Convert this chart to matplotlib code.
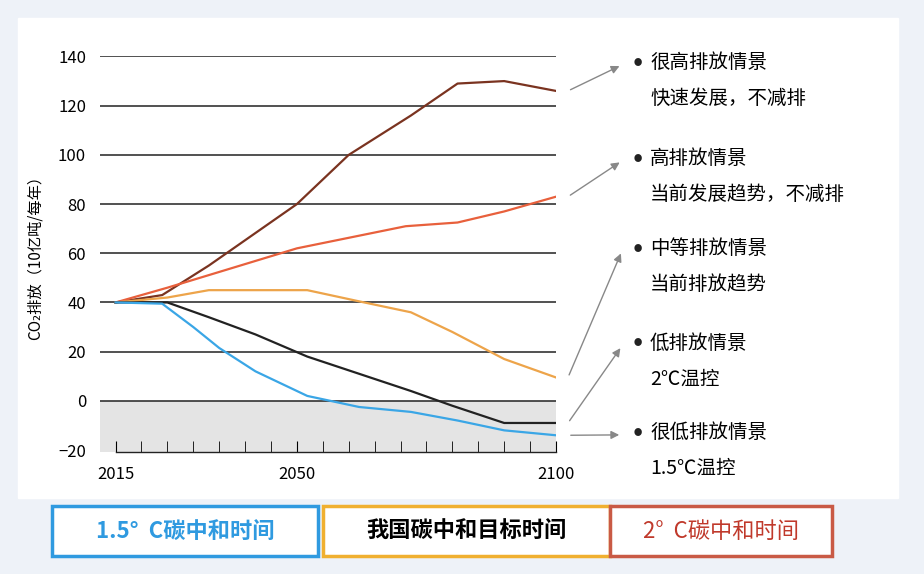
import matplotlib.pyplot as plt
import matplotlib.patches as patches
import numpy as np

plt.rcParams['font.family'] = ['Noto Sans CJK SC', 'DejaVu Sans']

# data
yr_vh = [2015, 2024, 2033, 2050, 2060, 2072, 2081, 2090, 2100]
vh = [40, 43, 55, 80, 100, 116, 129, 130, 126]
yr_h = [2015, 2025, 2050, 2071, 2081, 2090, 2100]
h = [40, 46, 62, 71, 72.5, 77, 83]
yr_m = [2015, 2025, 2033, 2052, 2063, 2072, 2080, 2090, 2100]
m = [40, 42, 45, 45, 40, 36, 28, 17, 9.5]
yr_l = [2015, 2025, 2033, 2042, 2052, 2062, 2072, 2080, 2090, 2100]
l = [40, 40, 34, 27, 18, 11, 4, -2, -9, -9]
yr_vl = [2015, 2024, 2030, 2035, 2042, 2052, 2062, 2072, 2081, 2090, 2100]
vl = [40, 39.5, 30, 21.5, 12, 2, -2.5, -4.5, -8, -12, -14]

labels = [("很高排放情景", "快速发展，不减排"),
          ("高排放情景", "当前发展趋势，不减排"),
          ("中等排放情景", "当前排放趋势"),
          ("低排放情景", "2℃温控"),
          ("很低排放情景", "1.5℃温控")]
label_y = [62, 158, 248, 343, 432]  # pixel rows of the label text

W, H = 924, 574
fig = plt.figure(figsize=(W / 100, H / 100), dpi=100)
fig.patch.set_facecolor('#eef2f8')
fig.patches.append(patches.Rectangle((18 / W, 1 - 498 / H), 880 / W, 480 / H,
                                     transform=fig.transFigure, color='white', zorder=-5))

ax = fig.add_axes([100 / W, 1 - 452 / H, 456 / W, 396 / H])
ax.set_zorder(2)
ax.patch.set_alpha(0)
ax.set_xlim(2012.0, 2100)
ax.set_ylim(-20.8, 140.2)
for v in range(0, 141, 20):
    ax.axhline(v, color='#222222', lw=1.1, zorder=1)
ax.axhspan(-20.8, 0, color='#e4e4e4', zorder=0)
ax.plot(yr_vh, vh, color='#7a3320', lw=1.6, zorder=3)
ax.plot(yr_h, h, color='#e8603c', lw=1.6, zorder=3)
ax.plot(yr_m, m, color='#eda44a', lw=1.6, zorder=3)
ax.plot(yr_l, l, color='#222222', lw=1.6, zorder=3)
ax.plot(yr_vl, vl, color='#3aa6e6', lw=1.6, zorder=3)
for s in ax.spines.values():
    s.set_visible(False)
ax.set_yticks(range(-20, 141, 20))
ax.set_xticks([2015, 2050, 2100])
ax.set_xticks(np.arange(2015, 2101, 5), minor=True)
ax.tick_params(axis='y', length=0, labelsize=12, pad=10)
ax.tick_params(axis='x', which='both', direction='in', length=8, labelsize=12, pad=10)
ax.plot([2015, 2100], [-20.8, -20.8], color='#222222', lw=1, clip_on=False)
ax.set_ylabel('CO₂排放（10亿吨/每年）', fontsize=11, labelpad=10)

# right side arrows and labels
ends = [vh[-1], h[-1], m[-1], l[-1], vl[-1]]
for (t1, t2), py, e in zip(labels, label_y, ends):
    fy = 1 - py / H
    ay = ax.transData.transform((2100, e))
    ay = fig.transFigure.inverted().transform(ay)
    fig.add_artist(patches.FancyArrowPatch((568 / W, ay[1]), (622 / W, fy - 0.005),
                   transform=fig.transFigure, arrowstyle='-|>', mutation_scale=12,
                   color='#888888', lw=1))
    fig.text(634 / W, fy, '●', fontsize=6, va='center', color='#222222')
    fig.text(650 / W, fy, t1, fontsize=14, va='center')
    fig.text(650 / W, fy - 36 / H, t2, fontsize=14, va='center')

# bottom boxes
boxes = [(52, 318, '#2f9ae0', '1.5°  C碳中和时间', '#2f9ae0', 'bold'),
         (323, 610, '#f0b030', '我国碳中和目标时间', 'black', 'bold'),
         (610, 832, '#c95a45', '2°  C碳中和时间', '#c0392b', 'normal')]
for x0, x1, ec, txt, tc, fw in boxes:
    fig.patches.append(patches.Rectangle((x0 / W, 1 - 556 / H), (x1 - x0) / W, 50 / H,
                       transform=fig.transFigure, fc='white', ec=ec, lw=2.5))
    fig.text((x0 + x1) / 2 / W, 1 - 531 / H, txt, fontsize=16, ha='center', va='center',
             color=tc, fontweight=fw)

fig.savefig('out.png', dpi=100, facecolor=fig.get_facecolor())
